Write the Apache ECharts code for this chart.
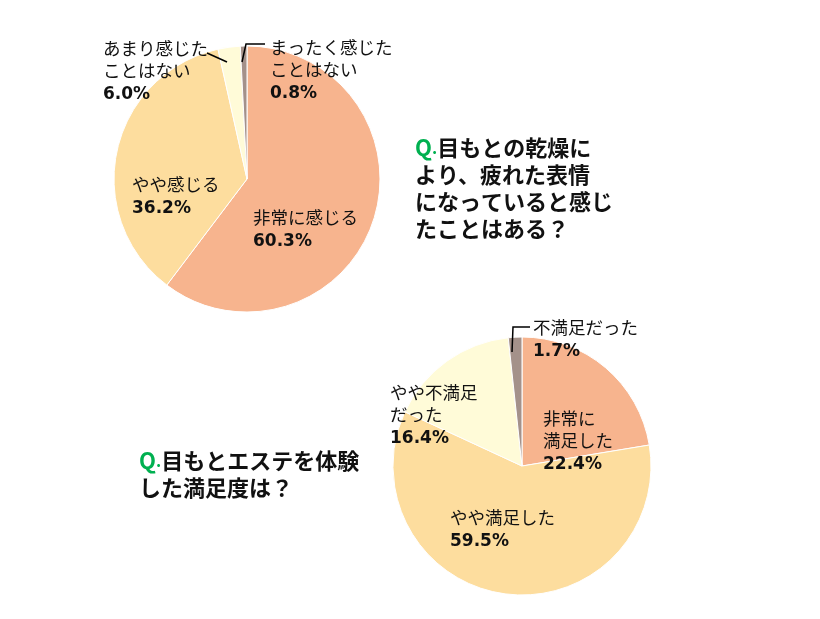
<!DOCTYPE html>
<html>
<head>
<meta charset="utf-8">
<script src="https://cdn.jsdelivr.net/npm/echarts@6/dist/echarts.min.js"></script>
<style>
html, body { margin: 0; padding: 0; background: #fff; }
#chart { width: 820px; height: 619px; }
</style>
</head>
<body>
<div id="chart"></div>
<script>
// Q1: 目もとの乾燥により、疲れた表情になっていると感じたことはある？
var dryNames = ['非常に感じる', 'やや感じる', 'あまり感じた\nことはない', 'まったく感じた\nことはない'];
var dryValues = [60.3, 36.2, 2.7, 0.8];
var dryLabels = ['60.3%', '36.2%', '6.0%', '0.8%'];

// Q2: 目もとエステを体験した満足度は？
var satNames = ['非常に\n満足した', 'やや満足した', 'やや不満足\nだった', '不満足だった'];
var satValues = [22.4, 59.5, 16.4, 1.7];
var satLabels = ['22.4%', '59.5%', '16.4%', '1.7%'];

var sliceColors = ['#F7B48E', '#FDDD9E', '#FFFBD8', '#A4918A'];

// label top-left corners, per series
var labelPos = [
    [[253, 206], [132, 173], [103, 37], [270, 36]],
    [[543, 407], [450, 506], [390, 381], [533, 316]]
];
// leader lines for the tiny slices (drawn above the pies)
var leaderLines = [
    [[207, 53], [227, 62]],
    [[242, 62], [246, 44], [265, 44]],
    [[512, 352], [513, 327], [530, 327]]
];

function buildData(names, values, labels) {
    var out = [];
    for (var i = 0; i < names.length; i++) {
        out.push({
            name: names[i],
            value: values[i],
            pct: labels[i],
            itemStyle: { color: sliceColors[i] }
        });
    }
    return out;
}

function layoutFor(seriesIndex) {
    return function (params) {
        var pos = labelPos[seriesIndex][params.dataIndex];
        return { x: pos[0], y: pos[1], align: 'left', verticalAlign: 'top' };
    };
}

var labelOpt = {
    show: true,
    position: 'outside',
    formatter: function (p) {
        return '{n|' + p.name.split('\n').join('}\n{n|') + '}\n{p|' + p.data.pct + '}';
    },
    rich: {
        n: { fontFamily: 'Noto Sans CJK JP', fontSize: 17.5, color: '#111', lineHeight: 22, align: 'left' },
        p: { fontFamily: 'DejaVu Sans', fontWeight: 'bold', fontSize: 17, color: '#111', lineHeight: 28, align: 'left' }
    }
};

var qRich = {
    q: { color: '#00B050', fontFamily: 'Noto Sans CJK JP', fontWeight: 'bold', fontSize: 22, lineHeight: 27 },
    d: { color: '#00B050', fontFamily: 'Noto Sans CJK JP', fontSize: 16, lineHeight: 27 }
};

var myChart = echarts.init(document.getElementById('chart'));
var option = {
    backgroundColor: '#fff',
    animation: false,
    title: [
        {
            text: '{q|Q}{d|.}目もとの乾燥に\nより、疲れた表情\nになっていると感じ\nたことはある？',
            left: 415, top: 134, padding: 0,
            textStyle: {
                fontFamily: 'Noto Sans CJK JP', fontSize: 22, fontWeight: 'bold', color: '#111', lineHeight: 27,
                rich: qRich
            }
        },
        {
            text: '{q|Q}{d|.}目もとエステを体験\nした満足度は？',
            left: 139, top: 447, padding: 0,
            textStyle: {
                fontFamily: 'Noto Sans CJK JP', fontSize: 22, fontWeight: 'bold', color: '#111', lineHeight: 27,
                rich: qRich
            }
        }
    ],
    graphic: leaderLines.map(function (pts) {
        return {
            type: 'polyline',
            z: 100,
            shape: { points: pts },
            style: { stroke: '#000', lineWidth: 1.5, fill: null }
        };
    }),
    series: [
        {
            type: 'pie',
            center: [247, 179],
            radius: 133,
            startAngle: 90,
            clockwise: true,
            avoidLabelOverlap: false,
            itemStyle: { borderColor: '#fff', borderWidth: 1 },
            label: labelOpt,
            labelLine: { show: false },
            labelLayout: layoutFor(0),
            emphasis: { disabled: true },
            data: buildData(dryNames, dryValues, dryLabels)
        },
        {
            type: 'pie',
            center: [522, 466],
            radius: 129,
            startAngle: 90,
            clockwise: true,
            avoidLabelOverlap: false,
            itemStyle: { borderColor: '#fff', borderWidth: 1 },
            label: labelOpt,
            labelLine: { show: false },
            labelLayout: layoutFor(1),
            emphasis: { disabled: true },
            data: buildData(satNames, satValues, satLabels)
        }
    ]
};
myChart.setOption(option);
</script>
</body>
</html>
